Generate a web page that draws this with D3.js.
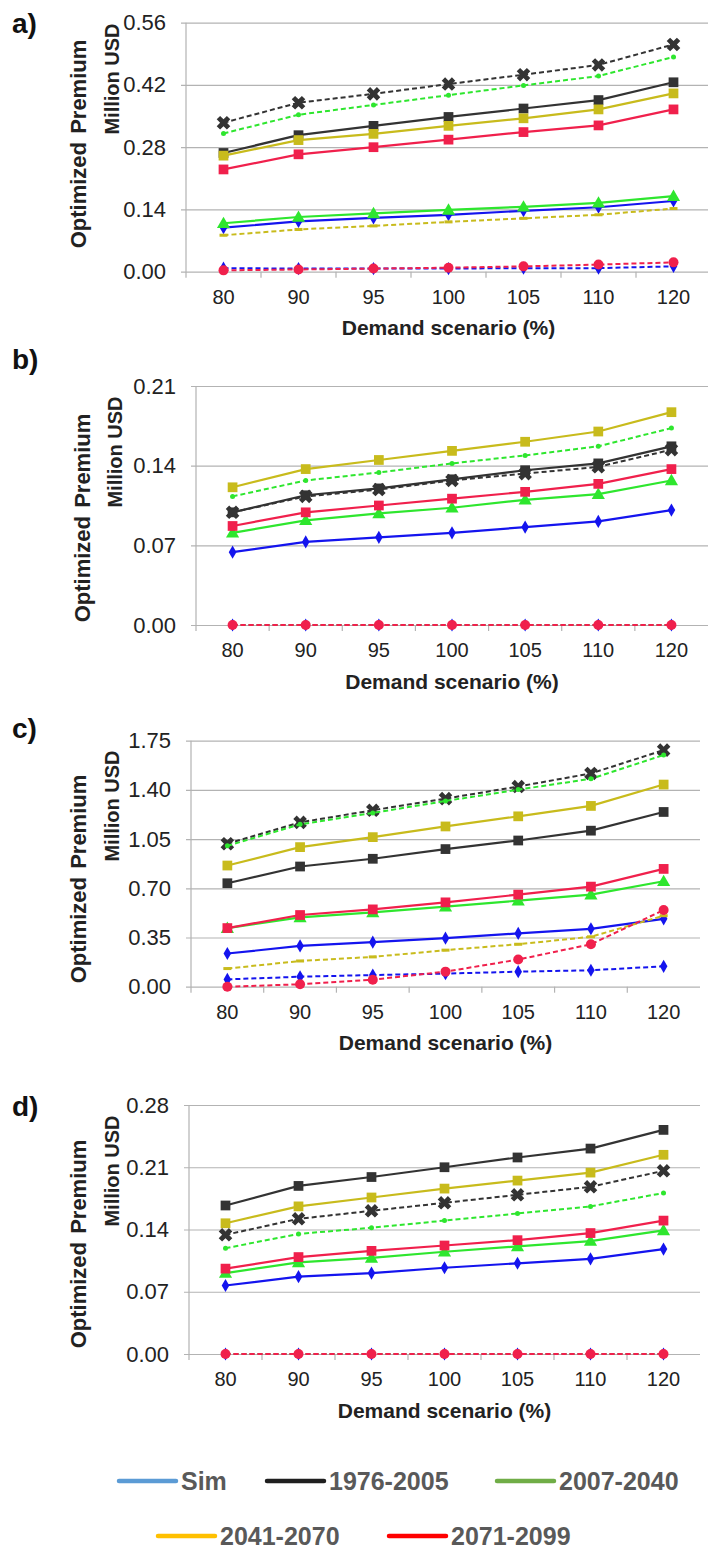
<!DOCTYPE html>
<html>
<head>
<meta charset="utf-8">
<script src="https://cdn.jsdelivr.net/npm/d3@7"></script>
<style>
  body { margin: 0; background: #fff; }
  svg { display: block; font-family: "Liberation Sans", Arial, sans-serif; }
</style>
</head>
<body>
<svg id="chart" width="708" height="1551"></svg>
<script>
// categories and legend
const scenarios = ["80", "90", "95", "100", "105", "110", "120"];
const periods = ["Sim", "1976-2005", "2007-2040", "2041-2070", "2071-2099"];

// y ticks of each panel
const aTicks = [0, 0.14, 0.28, 0.42, 0.56];
const bTicks = [0, 0.07, 0.14, 0.21];
const cTicks = [0, 0.35, 0.70, 1.05, 1.40, 1.75];
const dTicks = [0, 0.07, 0.14, 0.21, 0.28];

// values, one row per period (Sim, 1976-2005, 2007-2040, 2041-2070, 2071-2099)
const aSolid = [
  [0.099, 0.113, 0.121, 0.128, 0.137, 0.145, 0.159],
  [0.267, 0.307, 0.328, 0.348, 0.367, 0.386, 0.426],
  [0.109, 0.123, 0.131, 0.139, 0.146, 0.155, 0.170],
  [0.261, 0.296, 0.310, 0.328, 0.345, 0.365, 0.401],
  [0.230, 0.264, 0.280, 0.297, 0.314, 0.329, 0.365]
];
const aDashed = [
  [0.008, 0.007, 0.007, 0.007, 0.008, 0.008, 0.012],
  [0.335, 0.380, 0.400, 0.422, 0.443, 0.465, 0.511],
  [0.311, 0.353, 0.375, 0.397, 0.419, 0.440, 0.483],
  [0.082, 0.095, 0.103, 0.112, 0.120, 0.128, 0.142],
  [0.003, 0.005, 0.007, 0.009, 0.012, 0.016, 0.021]
];

const bSolid = [
  [0.064, 0.073, 0.077, 0.081, 0.086, 0.091, 0.101],
  [0.099, 0.114, 0.120, 0.128, 0.136, 0.142, 0.157],
  [0.081, 0.092, 0.098, 0.103, 0.110, 0.115, 0.127],
  [0.121, 0.137, 0.145, 0.153, 0.161, 0.170, 0.187],
  [0.087, 0.099, 0.105, 0.111, 0.117, 0.124, 0.137]
];
const bDashed = [
  [0, 0, 0, 0, 0, 0, 0],
  [0.099, 0.113, 0.119, 0.127, 0.133, 0.139, 0.154],
  [0.113, 0.127, 0.134, 0.142, 0.149, 0.157, 0.173],
  [0, 0, 0, 0, 0, 0, 0],
  [0, 0, 0, 0, 0, 0, 0]
];

const cSolid = [
  [0.236, 0.290, 0.317, 0.345, 0.379, 0.412, 0.483],
  [0.736, 0.855, 0.910, 0.979, 1.040, 1.110, 1.243],
  [0.417, 0.493, 0.529, 0.569, 0.612, 0.655, 0.750],
  [0.862, 0.993, 1.064, 1.140, 1.212, 1.286, 1.438],
  [0.417, 0.510, 0.550, 0.600, 0.655, 0.712, 0.838]
];
const cDashed = [
  [0.052, 0.071, 0.083, 0.093, 0.107, 0.117, 0.145],
  [1.017, 1.169, 1.255, 1.338, 1.424, 1.517, 1.683],
  [1.002, 1.155, 1.236, 1.321, 1.402, 1.479, 1.648],
  [0.129, 0.183, 0.212, 0.260, 0.302, 0.355, 0.505],
  [0.000, 0.017, 0.050, 0.107, 0.193, 0.302, 0.545]
];

const dSolid = [
  [0.077, 0.087, 0.091, 0.097, 0.102, 0.107, 0.118],
  [0.167, 0.189, 0.199, 0.210, 0.221, 0.231, 0.252],
  [0.091, 0.103, 0.108, 0.115, 0.121, 0.127, 0.139],
  [0.147, 0.166, 0.176, 0.186, 0.195, 0.204, 0.224],
  [0.096, 0.109, 0.116, 0.122, 0.128, 0.136, 0.150]
];
const dDashed = [
  [0, 0, 0, 0, 0, 0, 0],
  [0.134, 0.152, 0.161, 0.170, 0.179, 0.188, 0.206],
  [0.119, 0.135, 0.142, 0.150, 0.158, 0.166, 0.181],
  [0, 0, 0, 0, 0, 0, 0],
  [0, 0, 0, 0, 0, 0, 0]
];

// colours
const lineColors = ["#1414ee", "#333333", "#2ee62e", "#c8bb1c", "#f0204c"];
const legendColors = ["#5b9bd5", "#1f1f1f", "#70ad47", "#ffc000", "#ff0000"];
const solidMarkers = ["diamond", "square", "triangle", "square", "square"];
const dashedMarkers = ["diamond", "x", "dot", "dash", "circle"];

// panel layout (pixels)
const panels = [
  {label: "a)", solid: aSolid, dashed: aDashed, ticks: aTicks, x0: 186, x1: 711, top: 22.7, bottom: 271.7, labelY: 23,   t1: [78, 144],  t2: [112, 79]},
  {label: "b)", solid: bSolid, dashed: bDashed, ticks: bTicks, x0: 196, x1: 708, top: 386,  bottom: 625,   labelY: 359,  t1: [82, 518],  t2: [115, 452]},
  {label: "c)", solid: cSolid, dashed: cDashed, ticks: cTicks, x0: 191, x1: 700, top: 740.7, bottom: 986.7, labelY: 728, t1: [78, 879],  t2: [112, 806]},
  {label: "d)", solid: dSolid, dashed: dDashed, ticks: dTicks, x0: 189, x1: 700, top: 1105, bottom: 1354,  labelY: 1106, t1: [78, 1244], t2: [112, 1171]}
];

const svg = d3.select("#chart");
const gridColor = "#b3b3b3";

function marker(g, type, color, cx, cy) {
  if (type === "square") {
    g.append("path").attr("d", d3.symbol(d3.symbolSquare, 95)())
      .attr("transform", `translate(${cx},${cy})`).attr("fill", color);
  } else if (type === "diamond") {
    g.append("path").attr("d", d3.symbol(d3.symbolDiamond, 50)())
      .attr("transform", `translate(${cx},${cy})`).attr("fill", color);
  } else if (type === "triangle") {
    g.append("path").attr("d", d3.symbol(d3.symbolTriangle, 75)())
      .attr("transform", `translate(${cx},${cy + 1})`).attr("fill", color);
  } else if (type === "circle") {
    g.append("circle").attr("cx", cx).attr("cy", cy).attr("r", 5).attr("fill", color);
  } else if (type === "x") {
    g.append("path").attr("d", d3.symbol(d3.symbolCross, 115)())
      .attr("transform", `translate(${cx},${cy}) rotate(45)`).attr("fill", color);
  } else if (type === "dot") {
    g.append("circle").attr("cx", cx).attr("cy", cy).attr("r", 2.5).attr("fill", color);
  } else if (type === "dash") {
    g.append("rect").attr("x", cx - 4).attr("y", cy - 1.5).attr("width", 8).attr("height", 3).attr("fill", color);
  }
}

panels.forEach(p => {
  const x = d3.scaleBand().domain(scenarios).range([p.x0, p.x1]);
  const y = d3.scaleLinear().domain([0, d3.max(p.ticks)]).range([p.bottom, p.top]);
  const g = svg.append("g");

  // gridlines + y labels
  const yAxis = g.append("g")
    .attr("transform", `translate(${p.x0 - 5},0)`)
    .call(d3.axisLeft(y).tickValues(p.ticks).tickFormat(d3.format(".2f"))
      .tickSize(-(p.x1 - p.x0 + 5)).tickPadding(15));
  yAxis.select(".domain").remove();
  yAxis.selectAll(".tick line").attr("stroke", gridColor).attr("stroke-width", 1.2);
  yAxis.selectAll(".tick text").attr("font-size", 22).attr("fill", "#222");

  // left axis line and x ticks at the band edges
  g.append("line").attr("x1", p.x0).attr("x2", p.x0)
    .attr("y1", p.top).attr("y2", p.bottom + 6).attr("stroke", gridColor).attr("stroke-width", 1.2);
  scenarios.slice(1).forEach(c => {
    g.append("line").attr("x1", x(c)).attr("x2", x(c))
      .attr("y1", p.bottom).attr("y2", p.bottom + 6).attr("stroke", gridColor).attr("stroke-width", 1.2);
  });

  // x labels
  const xAxis = g.append("g")
    .attr("transform", `translate(0,${p.bottom})`)
    .call(d3.axisBottom(x).tickSize(0).tickPadding(18));
  xAxis.select(".domain").remove();
  xAxis.selectAll(".tick text").attr("font-size", 20).attr("fill", "#222");

  // titles
  g.append("text").attr("x", (p.x0 + p.x1) / 2).attr("y", p.bottom + 56)
    .attr("text-anchor", "middle").attr("dominant-baseline", "central")
    .attr("font-size", 21).attr("font-weight", "bold").attr("fill", "#222")
    .text("Demand scenario (%)");
  g.append("text").attr("transform", `translate(${p.t1[0]},${p.t1[1]}) rotate(-90)`)
    .attr("text-anchor", "middle").attr("dominant-baseline", "central")
    .attr("font-size", 22).attr("font-weight", "bold").attr("fill", "#222")
    .attr("word-spacing", 2)
    .text("Optimized Premium");
  g.append("text").attr("transform", `translate(${p.t2[0]},${p.t2[1]}) rotate(-90)`)
    .attr("text-anchor", "middle").attr("dominant-baseline", "central")
    .attr("font-size", 20).attr("font-weight", "bold").attr("fill", "#222")
    .text("Million USD");
  g.append("text").attr("x", 12).attr("y", p.labelY)
    .attr("dominant-baseline", "central")
    .attr("font-size", 28).attr("font-weight", "bold").attr("fill", "#111")
    .text(p.label);

  const cx = c => x(c) + x.bandwidth() / 2;
  const line = d3.line().x((d, i) => cx(scenarios[i])).y(d => y(d));

  // solid series then dashed series
  p.solid.forEach((vals, k) => {
    const s = g.append("g");
    s.append("path").attr("d", line(vals)).attr("fill", "none")
      .attr("stroke", lineColors[k]).attr("stroke-width", 2.2);
    vals.forEach((v, i) => marker(s, solidMarkers[k], lineColors[k], cx(scenarios[i]), y(v)));
  });
  p.dashed.forEach((vals, k) => {
    const s = g.append("g");
    s.append("path").attr("d", line(vals)).attr("fill", "none")
      .attr("stroke", lineColors[k]).attr("stroke-width", 2)
      .attr("stroke-dasharray", "5,3");
    vals.forEach((v, i) => marker(s, dashedMarkers[k], lineColors[k], cx(scenarios[i]), y(v)));
  });
});

// legend
const legendRows = [
  {y: 1481, items: [0, 1, 2], starts: [117, 265, 495]},
  {y: 1536, items: [3, 4], starts: [156, 387]}
];
legendRows.forEach(r => {
  r.items.forEach((k, j) => {
    const lx = r.starts[j];
    svg.append("line").attr("x1", lx + 2).attr("x2", lx + 59)
      .attr("y1", r.y).attr("y2", r.y)
      .attr("stroke", legendColors[k]).attr("stroke-width", 4.5).attr("stroke-linecap", "round");
    svg.append("text").attr("x", lx + 64).attr("y", r.y)
      .attr("dominant-baseline", "central")
      .attr("font-size", 25).attr("font-weight", "bold").attr("fill", "#595959")
      .text(periods[k]);
  });
});
</script>
</body>
</html>
